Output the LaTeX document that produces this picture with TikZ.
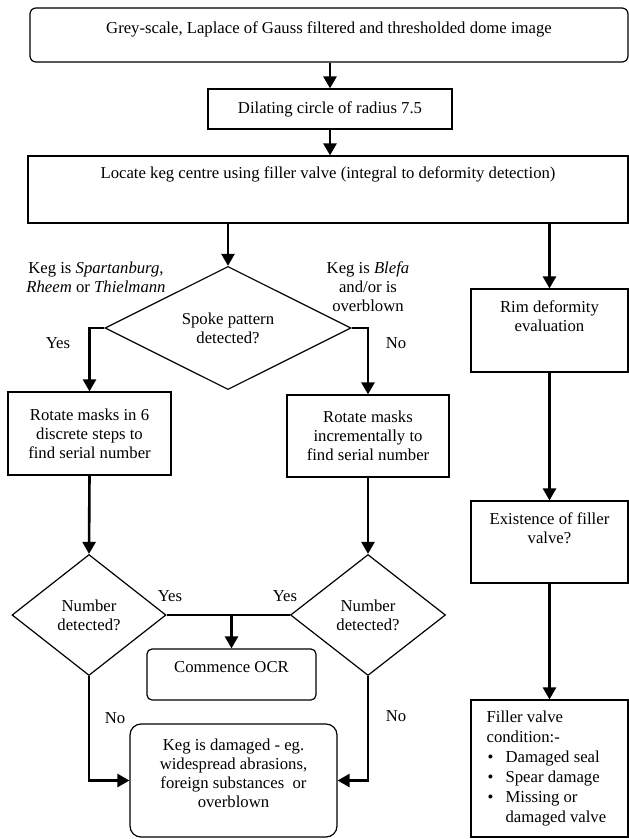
\documentclass[tikz,border=0pt]{standalone}
\usepackage{fontspec}
\setmainfont{Liberation Serif}
\usetikzlibrary{shapes.geometric,arrows.meta,positioning}

\tikzset{
  procbox/.style={draw, line width=1.2pt, inner sep=0pt, align=center},
  decision/.style={draw, diamond, line width=1.2pt, inner sep=0pt, align=center},
  flow/.style={line width=2.6pt, -{Triangle[length=12pt,width=13pt]}},
  joinline/.style={line width=2.6pt},
  txt/.style={inner sep=0pt, align=center},
}

\begin{document}
\begin{tikzpicture}[x=1pt,y=-1pt,font=\fontsize{16.7}{19}\selectfont]
\useasboundingbox (0,0) rectangle (629,839);

% boxes of the main line
\node[procbox, rounded corners=6pt, minimum width=598pt, minimum height=54pt] (top) at (329,35) {};
\node[txt, below=14pt of top.north] (toptxt) {Grey-scale, Laplace of Gauss filtered and thresholded dome image};
\node[procbox, minimum width=244pt, minimum height=40pt] (dilate) at (330,109) {Dilating circle of radius 7.5};
\node[procbox, minimum width=600pt, minimum height=67pt] (locate) at (328,189.5) {};
\node[txt, below=11pt of locate.north] (locatetxt) {Locate keg centre using filler valve (integral to deformity detection)};

% serial number branch
\node[decision, minimum width=246pt, minimum height=110pt] (spoke) at (228,328) {Spoke pattern\\detected?};
\node[txt] (kegleft) at (96,277.5) {Keg is \textit{Spartanburg},\\\textit{Rheem} or \textit{Thielmann}};
\node[txt] (kegright) at (368,287) {Keg is \textit{Blefa}\\and/or is\\overblown};
\node[procbox, minimum width=163pt, minimum height=83pt] (rotL) at (89.5,433.5) {Rotate masks in 6\\discrete steps to\\find serial number};
\node[procbox, minimum width=162pt, minimum height=82pt] (rotR) at (368,436) {Rotate masks\\incrementally to\\find serial number};
\node[decision, minimum width=154pt, minimum height=121pt] (numL) at (89,615) {Number\\detected?};
\node[decision, minimum width=155pt, minimum height=121pt] (numR) at (368,615) {Number\\detected?};
\node[procbox, rounded corners=5pt, minimum width=169pt, minimum height=51pt] (ocr) at (231.5,674.5) {};
\node[txt, below=13pt of ocr.north] (ocrtxt) {Commence OCR};
\node[procbox, rounded corners=11pt, minimum width=207pt, minimum height=113pt] (damage) at (233.5,780.5) {};
\node[txt, below=15pt of damage.north] (damagetxt) {Keg is damaged - eg.\\widespread abrasions,\\foreign substances~ or\\overblown};

% deformity branch
\node[procbox, minimum width=157pt, minimum height=83pt] (rim) at (549.5,330.5) {};
\node[txt, below=12pt of rim.north] (rimtxt) {Rim deformity\\evaluation};
\node[procbox, minimum width=157pt, minimum height=82pt] (exist) at (549.5,542) {};
\node[txt, below=12pt of exist.north] (existtxt) {Existence of filler\\valve?};
\node[procbox, minimum width=157pt, minimum height=137pt] (filler) at (549.5,768.5) {};
\node[txt, align=left, font=\fontsize{16.7}{20}\selectfont, below right=11pt and 16pt of filler.north west] (fillertxt)
  {Filler valve\\condition:-\\
   \makebox[19pt][l]{\hspace{1pt}\textbullet}Damaged seal\\
   \makebox[19pt][l]{\hspace{1pt}\textbullet}Spear damage\\
   \makebox[19pt][l]{\hspace{1pt}\textbullet}Missing or\\
   \hspace*{19pt}damaged valve};

% answers
\node[txt] (yes1) at (58,343) {Yes};
\node[txt] (no1) at (396,343) {No};
\node[txt] (yes2) at (170,596) {Yes};
\node[txt] (yes3) at (285,596) {Yes};
\node[txt] (no2) at (115,718) {No};
\node[txt] (no3) at (396,716) {No};

% connectors
\draw[flow] (top.south -| dilate.north) -- (dilate.north);
\draw[flow] (dilate.south) -- (dilate.south |- locate.north);
\draw[flow] (locate.south -| spoke.north) -- (spoke.north);
\draw[flow] (locate.south -| rim.north) -- (rim.north);
\draw[flow] (spoke.west) -| (rotL.north);
\draw[flow] (spoke.east) -| (rotR.north);
\draw[flow] (rotL.south) -- (numL.north);
\draw[flow] (rotR.south) -- (numR.north);
\draw[joinline] (numL.east) -- (numR.west);
\draw[flow] (numL.east -| ocr.north) -- (ocr.north);
\draw[flow] (numL.south) |- (damage.west);
\draw[flow] (numR.south) |- (damage.east);
\draw[flow] (rim.south) -- (exist.north);
\draw[flow] (exist.south) -- (filler.north);

\end{tikzpicture}
\end{document}
